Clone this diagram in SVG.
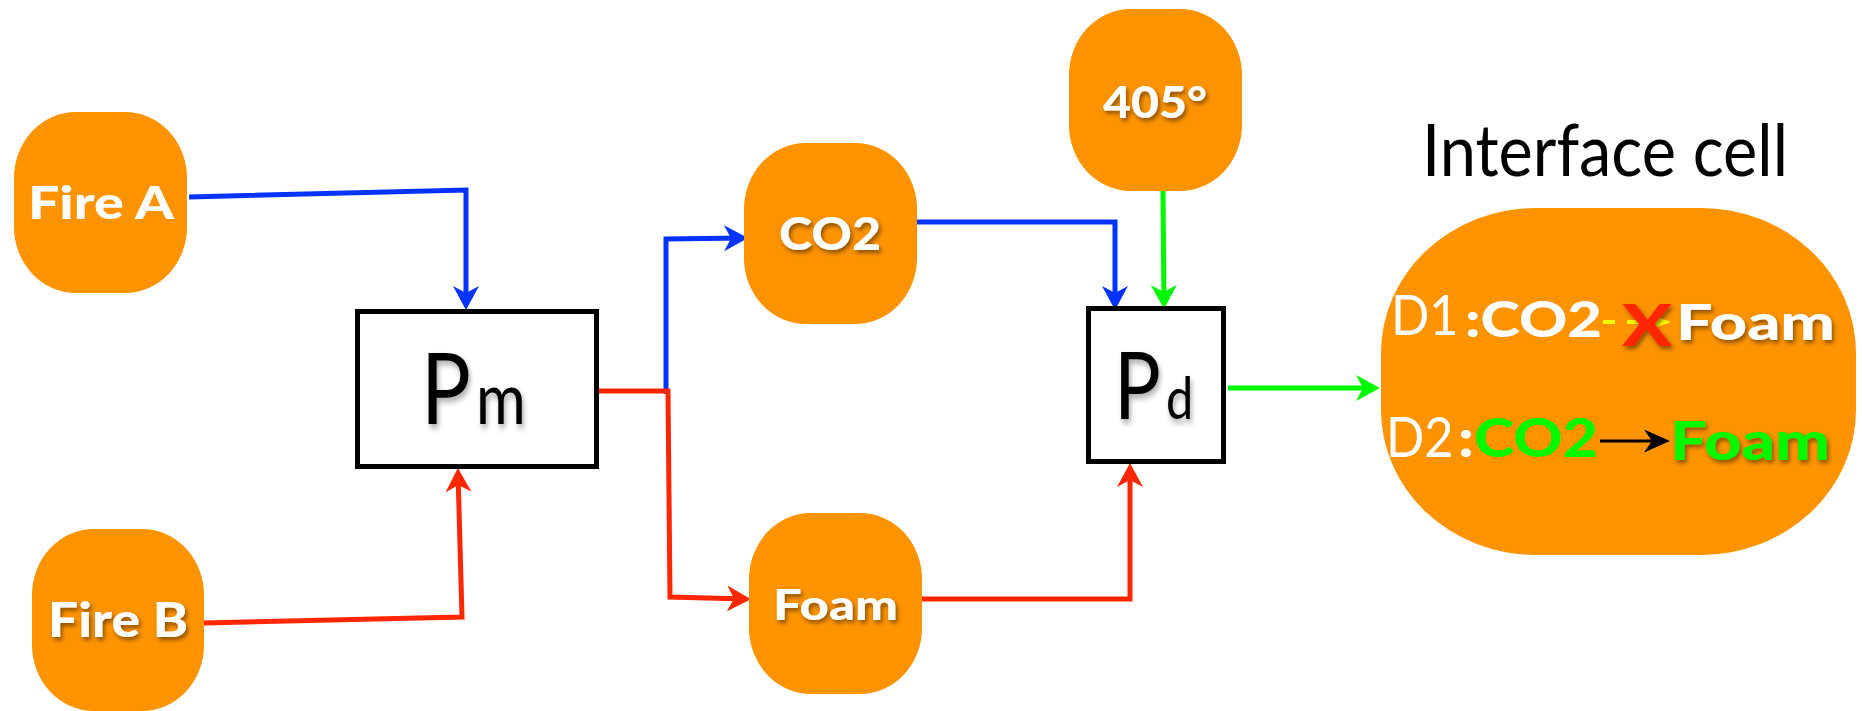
<svg xmlns="http://www.w3.org/2000/svg" width="1862" height="711" viewBox="0 0 1862 711">
<style>
.node{fill:#FE9300}
.box{fill:#fff;stroke:#000;stroke-width:5}
.lbl{font-family:Lato,"Open Sans","Liberation Sans",sans-serif;font-weight:900;fill:#fff}
.reg{font-family:Lato,"Open Sans","Liberation Sans",sans-serif;font-weight:normal}
.c{fill:none;stroke-width:5;stroke-linejoin:miter}
.blue{stroke:#0433FF}.red{stroke:#FF2600}.green{stroke:#00F900}
</style>
<defs>
<filter id="sh" x="-20%" y="-30%" width="140%" height="170%"><feDropShadow dx="2" dy="3" stdDeviation="2" flood-color="#000" flood-opacity="0.45"/></filter>
<filter id="shb" x="-30%" y="-20%" width="160%" height="150%"><feDropShadow dx="2" dy="4" stdDeviation="3" flood-color="#000" flood-opacity="0.35"/></filter>
<marker id="ab" markerUnits="userSpaceOnUse" markerWidth="26" markerHeight="26" refX="19" refY="13" orient="auto"><path d="M24,13 L0,0 L7,13 L0,26 Z" fill="#0433FF"/></marker>
<marker id="ar" markerUnits="userSpaceOnUse" markerWidth="26" markerHeight="26" refX="19" refY="13" orient="auto"><path d="M24,13 L0,0 L7,13 L0,26 Z" fill="#FF2600"/></marker>
<marker id="ag" markerUnits="userSpaceOnUse" markerWidth="26" markerHeight="26" refX="19" refY="13" orient="auto"><path d="M24,13 L0,0 L7,13 L0,26 Z" fill="#00F900"/></marker>
<marker id="ak" markerUnits="userSpaceOnUse" markerWidth="28" markerHeight="24" refX="20" refY="11.5" orient="auto"><path d="M26,11.5 L0,0 L8,11.5 L0,23 Z" fill="#000"/></marker>
<marker id="ay" markerUnits="userSpaceOnUse" markerWidth="20" markerHeight="14" refX="12" refY="6.5" orient="auto"><path d="M18,6.5 L0,0 L5,6.5 L0,13 Z" fill="#FFFB00"/></marker>
</defs>
<rect width="1862" height="711" fill="#fff"/>

<g id="connectors">
<polyline class="c blue" points="189,197 466,190 466,305" marker-end="url(#ab)"/>
<polyline class="c blue" points="917,222 1115,222 1115,305" marker-end="url(#ab)"/>
<polyline class="c green" points="1163,191 1164,304" marker-end="url(#ag)"/>
<polyline class="c green" points="1228,388 1375,388" marker-end="url(#ag)"/>
<polyline class="c red" points="204,623 462,617 458,473" marker-end="url(#ar)"/>
<polyline class="c blue" points="666,394 666,239 743,238" marker-end="url(#ab)"/>
<polyline class="c red" points="593,391 668,391 670,597 746,599" marker-end="url(#ar)"/>
<polyline class="c red" points="922,599 1130,599 1130,468" marker-end="url(#ar)"/>
</g>

<g id="fireA">
<rect class="node" x="14" y="112" width="173" height="181" rx="62" ry="66"/>
<text class="lbl" x="28" y="219" font-size="46" textLength="146" lengthAdjust="spacingAndGlyphs">Fire A</text>
</g>
<g id="fireB">
<rect class="node" x="32" y="529" width="172" height="182" rx="62" ry="66"/>
<text class="lbl" x="48" y="637" font-size="47" textLength="140" lengthAdjust="spacingAndGlyphs" filter="url(#sh)">Fire B</text>
</g>
<g id="Pm">
<rect class="box" x="357.5" y="311.5" width="239" height="155"/>
<text class="reg" transform="translate(421,424) scale(0.84,1)" font-size="99" fill="#000" filter="url(#shb)">P</text>
<text class="reg" transform="translate(476,424) scale(0.84,1)" font-size="72" fill="#000" filter="url(#shb)">m</text>
</g>
<g id="co2">
<rect class="node" x="744" y="143" width="173" height="181" rx="62" ry="66"/>
<text class="lbl" x="779" y="250" font-size="46" textLength="102" lengthAdjust="spacingAndGlyphs" filter="url(#sh)">CO2</text>
</g>
<g id="foam">
<rect class="node" x="749" y="513" width="173" height="181" rx="62" ry="66"/>
<text class="lbl" x="773" y="620" font-size="42" textLength="125" lengthAdjust="spacingAndGlyphs" filter="url(#sh)">Foam</text>
</g>
<g id="temp405">
<rect class="node" x="1069" y="9" width="173" height="182" rx="62" ry="66"/>
<text class="lbl" x="1103" y="118" font-size="43" textLength="104" lengthAdjust="spacingAndGlyphs" filter="url(#sh)">405°</text>
</g>
<g id="Pd">
<rect class="box" x="1088.5" y="308.5" width="135" height="153"/>
<text class="reg" transform="translate(1114,419) scale(0.84,1)" font-size="93" fill="#000" filter="url(#shb)">P</text>
<text class="reg" transform="translate(1166,419) scale(0.84,1)" font-size="58" fill="#000" filter="url(#shb)">d</text>
</g>
<g id="interfaceCell">
<text class="reg" x="1422" y="176" font-size="71" textLength="366" lengthAdjust="spacingAndGlyphs" fill="#000">Interface cell</text>
<rect class="node" x="1381" y="208" width="475" height="347" rx="155" ry="145"/>
<text class="reg" transform="translate(1391,335) scale(0.9,1)" font-size="56" fill="#fff">D1</text>
<text class="lbl" x="1465" y="337" font-size="50" textLength="137" lengthAdjust="spacingAndGlyphs">:CO2</text>
<line x1="1603" y1="322" x2="1665" y2="322" stroke="#FFFB00" stroke-width="4" stroke-dasharray="12,12" marker-end="url(#ay)"/>
<text class="lbl" x="1622" y="346" font-size="58" style="fill:#FF2600" textLength="50" lengthAdjust="spacingAndGlyphs" filter="url(#sh)">X</text>
<text class="lbl" x="1676" y="340" font-size="50" textLength="159" lengthAdjust="spacingAndGlyphs" filter="url(#sh)">Foam</text>
<text class="reg" transform="translate(1386,457) scale(0.9,1)" font-size="56" fill="#fff">D2</text>
<text class="lbl" x="1458" y="457" font-size="54" textLength="140" lengthAdjust="spacingAndGlyphs">:<tspan style="fill:#00F900">CO2</tspan></text>
<line x1="1600" y1="441" x2="1664" y2="441" stroke="#000" stroke-width="3" marker-end="url(#ak)"/>
<text class="lbl" x="1670" y="460" font-size="53" style="fill:#00F900" textLength="160" lengthAdjust="spacingAndGlyphs" filter="url(#sh)">Foam</text>
</g>
</svg>
